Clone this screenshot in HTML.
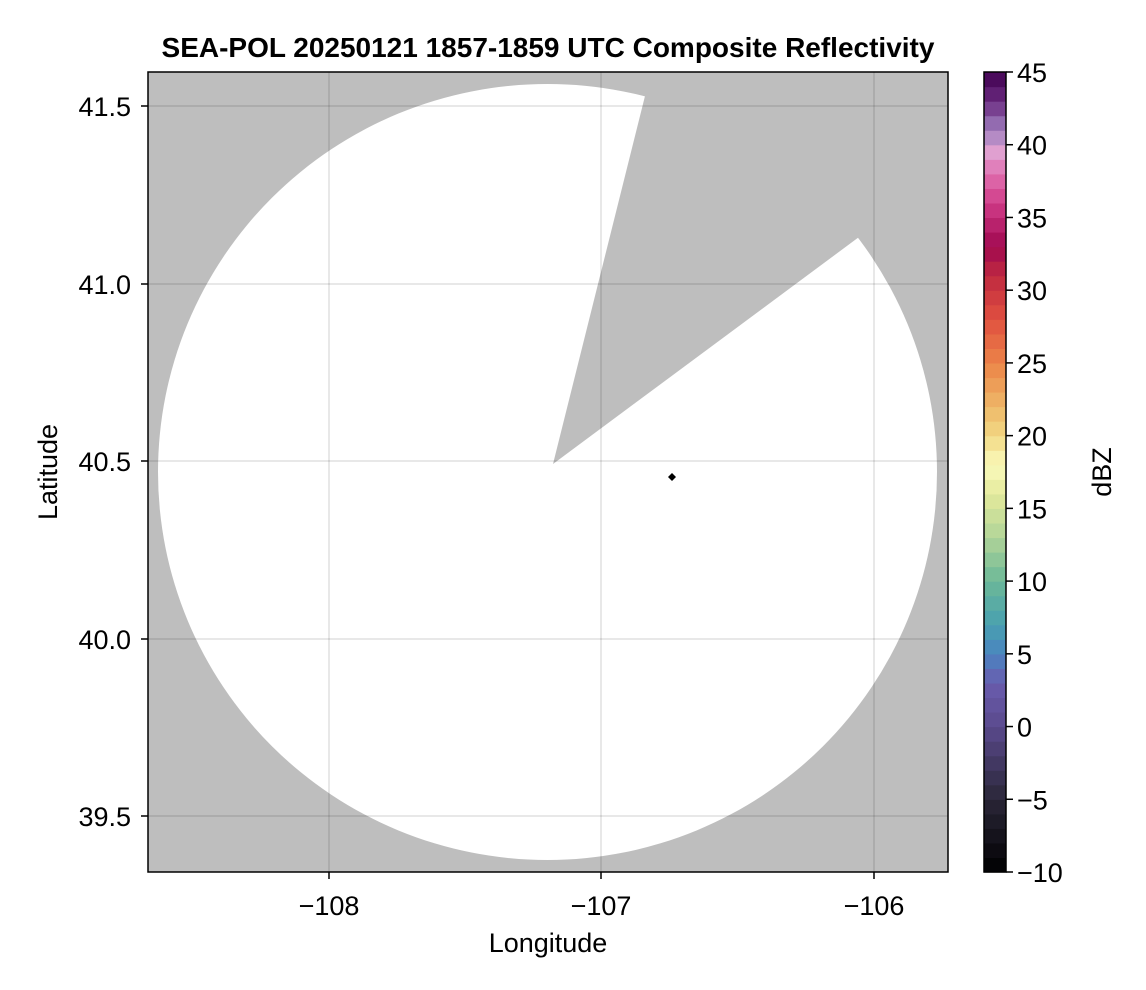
<!DOCTYPE html>
<html><head><meta charset="utf-8"><style>body{margin:0;background:#fff}svg{display:block;font-family:"Liberation Sans",sans-serif}</style></head>
<body>
<svg id="s" width="1146" height="990" xmlns="http://www.w3.org/2000/svg">
<defs><clipPath id="c"><rect x="148" y="72" width="800" height="800"/></clipPath></defs>
<rect x="148" y="72" width="800" height="800" fill="#bebebe"/>
<g clip-path="url(#c)">
<ellipse cx="547.5" cy="472" rx="389.5" ry="388" fill="#fff"/>
<polygon points="553,464 651,72 948,72 948,171" fill="#bebebe"/>
<g stroke="#000" stroke-opacity="0.12" stroke-width="1.5">
<line x1="329" y1="72" x2="329" y2="872"/><line x1="601" y1="72" x2="601" y2="872"/><line x1="874" y1="72" x2="874" y2="872"/>
<line x1="148" y1="106" x2="948" y2="106"/><line x1="148" y1="284" x2="948" y2="284"/><line x1="148" y1="461" x2="948" y2="461"/><line x1="148" y1="639" x2="948" y2="639"/><line x1="148" y1="816" x2="948" y2="816"/>
</g>
<polygon points="672,473 676,477 672,481 668,477" fill="#000"/>
</g>
<rect x="148" y="72" width="800" height="800" fill="none" stroke="#000" stroke-width="1.5"/>
<g stroke="#000" stroke-width="1.5">
<line x1="329" y1="872" x2="329" y2="879"/><line x1="601" y1="872" x2="601" y2="879"/><line x1="874" y1="872" x2="874" y2="879"/>
<line x1="141" y1="106" x2="148" y2="106"/><line x1="141" y1="284" x2="148" y2="284"/><line x1="141" y1="461" x2="148" y2="461"/><line x1="141" y1="639" x2="148" y2="639"/><line x1="141" y1="816" x2="148" y2="816"/>
</g>
<g font-size="27" text-anchor="middle">
<text x="329" y="915">−108</text><text x="601" y="915">−107</text><text x="874" y="915">−106</text>
<text x="548" y="952">Longitude</text>
<text x="548" y="57" font-weight="bold" font-size="28">SEA-POL 20250121 1857-1859 UTC Composite Reflectivity</text>
</g>
<g font-size="27" text-anchor="end">
<text x="131" y="116">41.5</text><text x="131" y="294">41.0</text><text x="131" y="471">40.5</text><text x="131" y="649">40.0</text><text x="131" y="826">39.5</text>
</g>
<text transform="translate(57,472) rotate(-90)" font-size="27" text-anchor="middle">Latitude</text>
<g id="cb"></g>
<rect x="984" y="72" width="22" height="800" fill="none" stroke="#000" stroke-width="1.5"/>
<g id="ct" font-size="27"></g>
<text transform="translate(1111,472) rotate(-90)" font-size="27" text-anchor="middle">dBZ</text>
</svg>
<script>
var a=[[-10,"#000000"],[-5,"#2a2638"],[0,"#5a4a8c"],[3,"#6a5cae"],[5,"#4a84c0"],[7,"#48a0b0"],[10,"#6cb898"],[13,"#b0d498"],[16,"#e4ea9c"],[18,"#fafabc"],[20,"#f2d884"],[22,"#eeb868"],[25,"#ec8448"],[28,"#e05040"],[31,"#c02a40"],[33,"#a00850"],[36,"#d03c88"],[38,"#e070b0"],[39.5,"#e0a0d0"],[41,"#a080c0"],[43,"#6a2a80"],[45,"#400050"]];
function h(c){return[1,3,5].map(function(i){return parseInt(c.substr(i,2),16)})}
function col(v){for(var i=0;i<a.length-1;i++){if(v<=a[i+1][0]){var t=(v-a[i][0])/(a[i+1][0]-a[i][0]),p=h(a[i][1]),q=h(a[i+1][1]);return"rgb("+p.map(function(x,k){return Math.round(x+(q[k]-x)*t)}).join(",")+")"}}return a[a.length-1][1]}
var s="",pp=800/55;
for(var i=0;i<55;i++){var y=872-(i+1)*pp;s+='<rect x="984" y="'+y.toFixed(2)+'" width="22" height="'+(pp+0.6).toFixed(2)+'" fill="'+col(-10+i+0.5)+'"/>';}
document.getElementById("cb").innerHTML=s;
var t="";for(var v=-10;v<=45;v+=5){var y=872-(v+10)*800/55;t+='<line x1="1006" x2="1013" y1="'+y+'" y2="'+y+'" stroke="#000" stroke-width="1.5"/><text x="1017" y="'+(y+10)+'">'+(v<0?"−"+(-v):v)+'</text>';}
document.getElementById("ct").innerHTML=t;
</script>
</body></html>
